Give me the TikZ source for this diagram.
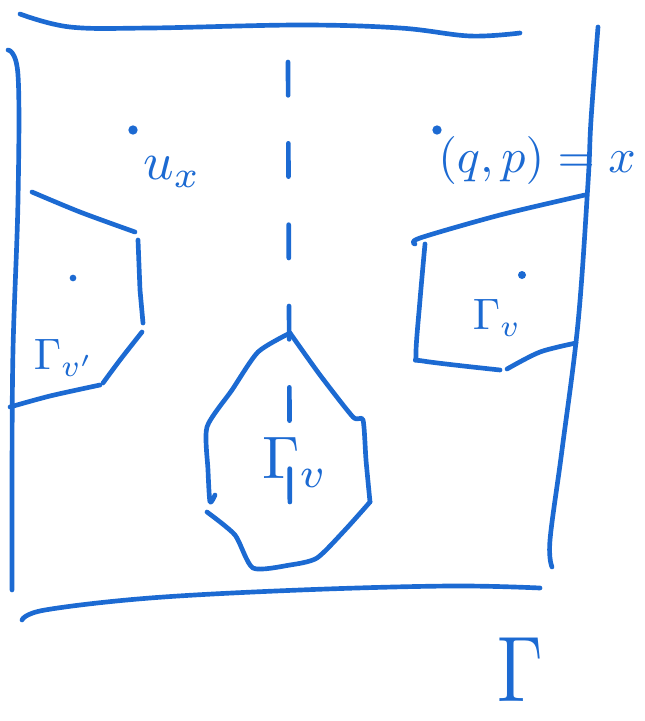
\documentclass[tikz,border=0pt]{standalone}
\usepackage{graphicx}
\definecolor{ink}{RGB}{28,106,210}
\begin{document}
\begin{tikzpicture}[x=0.75pt,y=-0.75pt,
  pen/.style={draw=ink,line width=3.5pt,line cap=round,line join=round},
  dotmark/.style={circle,fill=ink,inner sep=0pt,minimum size=7pt},
  lbl/.style={text=ink,inner sep=0pt}]
\useasboundingbox (0,0) rectangle (645,721);
% frame lines
\draw[pen] plot[smooth,tension=0.6] coordinates {(20,14) (70,27) (150,28) (300,25) (400,28) (470,36) (520,33)};
\draw[pen] plot[smooth,tension=0.6] coordinates {(8,50) (18,75) (18,200) (13,350) (12,480) (12,590)};
\draw[pen] plot[smooth,tension=0.6] coordinates {(598,27) (591,120) (588,183) (578,323) (562,450) (550,540) (552,567)};
\draw[pen] plot[smooth,tension=0.6] coordinates {(22,620) (45,610) (150,598) (300,590) (450,586) (540,588)};
% dashed symmetry line
\draw[pen,dash pattern=on 25pt off 36pt] (288,62) -- (290,540);
% left region
\draw[pen] plot[smooth,tension=0.5] coordinates {(32,192) (80,212) (135,232)};
\draw[pen] (138,240) -- (140,290) -- (143,323);
\draw[pen] plot[smooth,tension=0.5] coordinates {(142,332) (120,360) (103,383)};
\draw[pen] plot[smooth,tension=0.5] coordinates {(100,385) (50,396) (10,407)};
% right region
\draw[pen] plot[smooth,tension=0.5] coordinates {(585,195) (500,215) (420,238) (415,244)};
\draw[pen] plot[smooth,tension=0.5] coordinates {(425,244) (420,300) (416,355) (423,361) (500,370)};
\draw[pen] plot[smooth,tension=0.5] coordinates {(507,369) (540,352) (576,343)};
% central region
\draw[pen] plot[smooth,tension=0.4] coordinates {(290,333) (258,352) (232,390) (207,427) (208,470) (210,502) (215,495)};
\draw[pen] plot[smooth,tension=0.4] coordinates {(207,512) (235,535) (253,568) (290,565) (317,558) (345,530) (370,502)};
\draw[pen] plot[smooth,tension=0.4] coordinates {(370,502) (366,460) (363,420) (353,417) (320,375) (290,333)};
% points and labels
\node[dotmark] (ux) at (133,130) {};
\node[lbl] (uxl) at (172,172) {\scalebox{4}{$u_x$}};
\node[dotmark] (qp) at (437,130) {};
\node[lbl] (qpl) at (537,160) {\scalebox{3.6}{$(q,p)=x$}};
\node[dotmark,minimum size=5pt] (pl) at (73,278) {};
\node[lbl] (gl) at (64,358) {\scalebox{3.3}{$\Gamma_{v'}$}};
\node[dotmark,minimum size=6pt] (pr) at (522,275) {};
\node[lbl] (gr) at (497,318) {\scalebox{3.3}{$\Gamma_{v}$}};
\node[lbl] (gc) at (295,462) {\scalebox{4.5}{$\Gamma_{v}$}};
\node[lbl] (gbig) at (520,670) {\scalebox{5.5}[7]{$\Gamma$}};
\end{tikzpicture}
\end{document}
